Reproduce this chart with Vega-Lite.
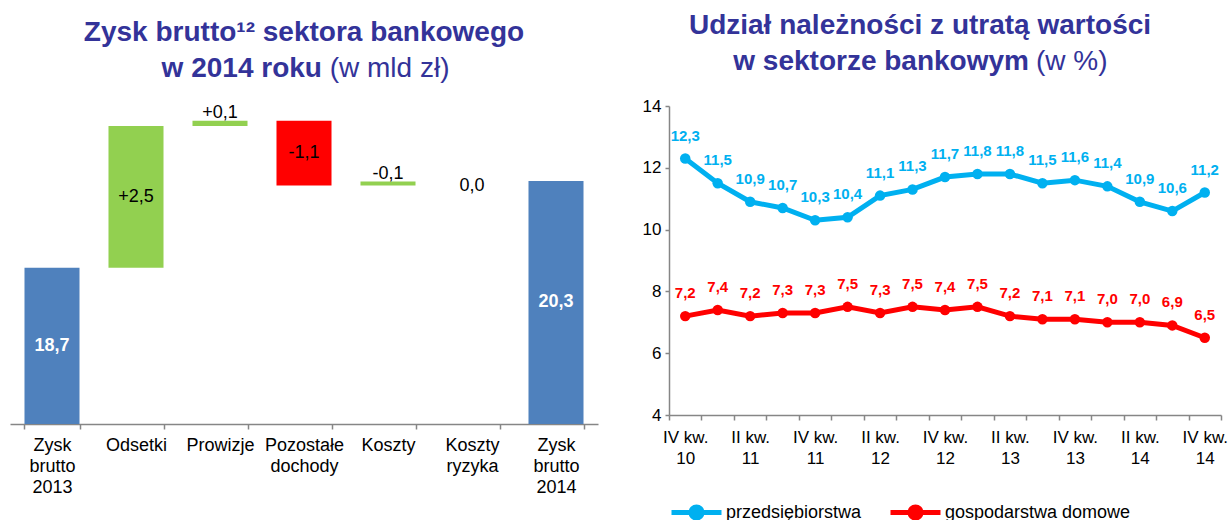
{
  "$schema": "https://vega.github.io/schema/vega-lite/v6.json",
  "padding": {"left": 10, "top": 12, "right": 0, "bottom": 0},
  "bounds": "flush",
  "spacing": 71,
  "resolve": {"scale": {"color": "independent"}, "legend": {"color": "independent"}},
  "config": {
    "font": "Liberation Sans",
    "view": {"stroke": null},
    "locale": {"number": {"decimal": ",", "thousands": " ", "grouping": [3], "currency": ["", " zł"]}},
    "title": {"font": "Liberation Sans", "fontSize": 28, "fontWeight": "bold", "color": "#333399", "lineHeight": 36, "anchor": "middle", "offset": 21, "frame": "group", "subtitleFont": "Liberation Sans", "subtitleFontSize": 28, "subtitleColor": "#333399", "subtitleFontWeight": "normal", "subtitlePadding": -28},
    "axis": {"domainColor": "#868686", "tickColor": "#868686", "labelColor": "#000000", "labelFont": "Liberation Sans", "grid": false, "title": null, "domainWidth": 1.5, "tickWidth": 1.5, "labelOverlap": false}
  },
  "hconcat": [
    {
      "width": 588,
      "height": 318,
      "title": {
        "text": ["Zysk brutto¹² sektora bankowego", "w 2014 roku\u00a0\u00a0\u00a0\u00a0\u00a0\u00a0\u00a0\u00a0\u00a0\u00a0\u00a0\u00a0\u00a0\u00a0\u00a0\u00a0\u200b"],
        "subtitle": "\u200b\u00a0\u00a0\u00a0\u00a0\u00a0\u00a0\u00a0\u00a0\u00a0\u00a0\u00a0\u00a0\u00a0\u00a0\u00a0\u00a0\u00a0\u00a0\u00a0\u00a0\u00a0\u00a0(w mld zł)"
      },
      "data": {"values": [
        {"kategoria": "Zysk brutto 2013", "start": 0, "end": 18.7, "seria": "suma", "etykieta": "18,7"},
        {"kategoria": "Odsetki", "start": 18.7, "end": 21.2, "seria": "wzrost", "etykieta": "+2,5"},
        {"kategoria": "Prowizje", "start": 21.2, "end": 21.29, "seria": "wzrost", "etykieta": "+0,1"},
        {"kategoria": "Pozostałe dochody", "start": 21.29, "end": 20.15, "seria": "spadek", "etykieta": "-1,1"},
        {"kategoria": "Koszty", "start": 20.22, "end": 20.15, "seria": "wzrost", "etykieta": "-0,1"},
        {"kategoria": "Koszty ryzyka", "start": 20.15, "end": 20.15, "seria": "zero", "etykieta": "0,0"},
        {"kategoria": "Zysk brutto 2014", "start": 0, "end": 20.23, "seria": "suma", "etykieta": "20,3"}
      ]},
      "encoding": {
        "x": {
          "field": "kategoria", "type": "nominal",
          "sort": ["Zysk brutto 2013", "Odsetki", "Prowizje", "Pozostałe dochody", "Koszty", "Koszty ryzyka", "Zysk brutto 2014"],
          "scale": {"paddingInner": 0.345, "paddingOuter": 0.1725},
          "axis": {"labelExpr": "split(datum.label, ' ')", "labelAngle": 0, "labelFontSize": 18, "labelLineHeight": 21, "labelBaseline": "top", "labelPadding": 7, "tickBand": "extent", "tickSize": 5}
        }
      },
      "layer": [
        {
          "mark": {"type": "bar"},
          "encoding": {
            "y": {"field": "start", "type": "quantitative", "scale": {"domain": [15.95, 21.55], "clamp": true}, "axis": null},
            "y2": {"field": "end"},
            "color": {"field": "seria", "type": "nominal", "scale": {"domain": ["suma", "wzrost", "spadek", "zero"], "range": ["#4F81BD", "#92D050", "#FF0000", "#FFFFFF"]}, "legend": null}
          }
        },
        {
          "transform": [{"filter": "datum.seria == 'suma'"}],
          "mark": {"type": "text", "fontSize": 18, "fontWeight": "bold", "color": "#FFFFFF", "baseline": "middle"},
          "encoding": {
            "y": {"field": "end", "type": "quantitative", "scale": {"domain": [15.95, 27.15]}, "axis": null},
            "text": {"field": "etykieta"}
          }
        },
        {
          "transform": [
            {"filter": "datum.seria != 'suma' && (abs(datum.end - datum.start) > 0.5 || datum.end == datum.start)"},
            {"fold": ["start", "end"], "as": ["granica", "poziom"]}
          ],
          "mark": {"type": "text", "fontSize": 18, "color": "#000000", "baseline": "middle"},
          "encoding": {
            "y": {"aggregate": "mean", "field": "poziom", "type": "quantitative", "scale": {"domain": [15.95, 21.55]}, "axis": null},
            "text": {"field": "etykieta"}
          }
        },
        {
          "transform": [
            {"filter": "datum.seria != 'suma' && abs(datum.end - datum.start) > 0 && abs(datum.end - datum.start) <= 0.5"},
            {"fold": ["start", "end"], "as": ["granica", "poziom"]}
          ],
          "mark": {"type": "text", "fontSize": 18, "color": "#000000", "baseline": "bottom", "dy": 1},
          "encoding": {
            "y": {"aggregate": "max", "field": "poziom", "type": "quantitative", "scale": {"domain": [15.95, 21.55]}, "axis": null},
            "text": {"field": "etykieta"}
          }
        }
      ],
      "resolve": {"scale": {"y": "independent"}}
    },
    {
      "width": 552,
      "height": 309,
      "title": {
        "text": ["Udział należności z utratą wartości", "w sektorze bankowym\u00a0\u00a0\u00a0\u00a0\u00a0\u00a0\u00a0\u00a0\u00a0\u00a0\u200b"],
        "subtitle": "\u200b\u00a0\u00a0\u00a0\u00a0\u00a0\u00a0\u00a0\u00a0\u00a0\u00a0\u00a0\u00a0\u00a0\u00a0\u00a0\u00a0\u00a0\u00a0\u00a0\u00a0\u00a0\u00a0\u00a0\u00a0\u00a0\u00a0\u00a0\u00a0\u00a0\u00a0\u00a0\u00a0\u00a0\u00a0\u00a0\u00a0\u00a0\u00a0\u00a0(w %)",
        "dx": -25
      },
      "data": {"values": [
        {"kwartal": "IV kw. 10", "seria": "przedsiębiorstwa", "wartosc": 12.3},
        {"kwartal": "I kw. 11", "seria": "przedsiębiorstwa", "wartosc": 11.5},
        {"kwartal": "II kw. 11", "seria": "przedsiębiorstwa", "wartosc": 10.9},
        {"kwartal": "III kw. 11", "seria": "przedsiębiorstwa", "wartosc": 10.7},
        {"kwartal": "IV kw. 11", "seria": "przedsiębiorstwa", "wartosc": 10.3},
        {"kwartal": "I kw. 12", "seria": "przedsiębiorstwa", "wartosc": 10.4},
        {"kwartal": "II kw. 12", "seria": "przedsiębiorstwa", "wartosc": 11.1},
        {"kwartal": "III kw. 12", "seria": "przedsiębiorstwa", "wartosc": 11.3},
        {"kwartal": "IV kw. 12", "seria": "przedsiębiorstwa", "wartosc": 11.7},
        {"kwartal": "I kw. 13", "seria": "przedsiębiorstwa", "wartosc": 11.8},
        {"kwartal": "II kw. 13", "seria": "przedsiębiorstwa", "wartosc": 11.8},
        {"kwartal": "III kw. 13", "seria": "przedsiębiorstwa", "wartosc": 11.5},
        {"kwartal": "IV kw. 13", "seria": "przedsiębiorstwa", "wartosc": 11.6},
        {"kwartal": "I kw. 14", "seria": "przedsiębiorstwa", "wartosc": 11.4},
        {"kwartal": "II kw. 14", "seria": "przedsiębiorstwa", "wartosc": 10.9},
        {"kwartal": "III kw. 14", "seria": "przedsiębiorstwa", "wartosc": 10.6},
        {"kwartal": "IV kw. 14", "seria": "przedsiębiorstwa", "wartosc": 11.2},
        {"kwartal": "IV kw. 10", "seria": "gospodarstwa domowe", "wartosc": 7.2},
        {"kwartal": "I kw. 11", "seria": "gospodarstwa domowe", "wartosc": 7.4},
        {"kwartal": "II kw. 11", "seria": "gospodarstwa domowe", "wartosc": 7.2},
        {"kwartal": "III kw. 11", "seria": "gospodarstwa domowe", "wartosc": 7.3},
        {"kwartal": "IV kw. 11", "seria": "gospodarstwa domowe", "wartosc": 7.3},
        {"kwartal": "I kw. 12", "seria": "gospodarstwa domowe", "wartosc": 7.5},
        {"kwartal": "II kw. 12", "seria": "gospodarstwa domowe", "wartosc": 7.3},
        {"kwartal": "III kw. 12", "seria": "gospodarstwa domowe", "wartosc": 7.5},
        {"kwartal": "IV kw. 12", "seria": "gospodarstwa domowe", "wartosc": 7.4},
        {"kwartal": "I kw. 13", "seria": "gospodarstwa domowe", "wartosc": 7.5},
        {"kwartal": "II kw. 13", "seria": "gospodarstwa domowe", "wartosc": 7.2},
        {"kwartal": "III kw. 13", "seria": "gospodarstwa domowe", "wartosc": 7.1},
        {"kwartal": "IV kw. 13", "seria": "gospodarstwa domowe", "wartosc": 7.1},
        {"kwartal": "I kw. 14", "seria": "gospodarstwa domowe", "wartosc": 7.0},
        {"kwartal": "II kw. 14", "seria": "gospodarstwa domowe", "wartosc": 7.0},
        {"kwartal": "III kw. 14", "seria": "gospodarstwa domowe", "wartosc": 6.9},
        {"kwartal": "IV kw. 14", "seria": "gospodarstwa domowe", "wartosc": 6.5}
      ]},
      "encoding": {
        "x": {
          "field": "kwartal", "type": "ordinal", "bandPosition": 0.5,
          "sort": ["IV kw. 10", "I kw. 11", "II kw. 11", "III kw. 11", "IV kw. 11", "I kw. 12", "II kw. 12", "III kw. 12", "IV kw. 12", "I kw. 13", "II kw. 13", "III kw. 13", "IV kw. 13", "I kw. 14", "II kw. 14", "III kw. 14", "IV kw. 14"],
          "scale": {"type": "band", "paddingInner": 0, "paddingOuter": 0},
          "axis": {"labelExpr": "(indexof(datum.label, 'IV ') == 0 || indexof(datum.label, 'II ') == 0) ? [slice(datum.label, 0, lastindexof(datum.label, ' ')), slice(datum.label, lastindexof(datum.label, ' ') + 1)] : ''", "labelAngle": 0, "labelFontSize": 17, "labelLineHeight": 21, "labelBaseline": "top", "labelPadding": 9, "tickBand": "extent", "tickSize": 5}
        },
        "y": {"field": "wartosc", "type": "quantitative", "scale": {"domain": [4, 14], "zero": false}, "axis": {"values": [4, 6, 8, 10, 12, 14], "labelFontSize": 17, "tickSize": 4, "labelPadding": 4}},
        "color": {
          "field": "seria", "type": "nominal",
          "scale": {"domain": ["przedsiębiorstwa", "gospodarstwa domowe"], "range": ["#00B0F0", "#FF0000"]},
          "legend": {"orient": "bottom", "direction": "horizontal", "title": null, "labelFontSize": 18, "labelLimit": 400, "labelColor": "#000000", "symbolType": "M-1,0H1M-0.22,0A0.22,0.22 0 1 1 0.22,0A0.22,0.22 0 1 1 -0.22,0Z", "symbolSize": 2500, "symbolStrokeWidth": 5, "columnPadding": 18, "labelOffset": 2, "offset": 19}
        }
      },
      "layer": [
        {"mark": {"type": "line", "strokeWidth": 5}},
        {"mark": {"type": "point", "filled": true, "size": 110, "opacity": 1}},
        {
          "mark": {"type": "text", "fontSize": 15, "fontWeight": "bold", "dy": -23, "baseline": "middle"},
          "encoding": {"text": {"field": "wartosc", "type": "quantitative", "format": ".1f"}}
        }
      ]
    }
  ]
}
